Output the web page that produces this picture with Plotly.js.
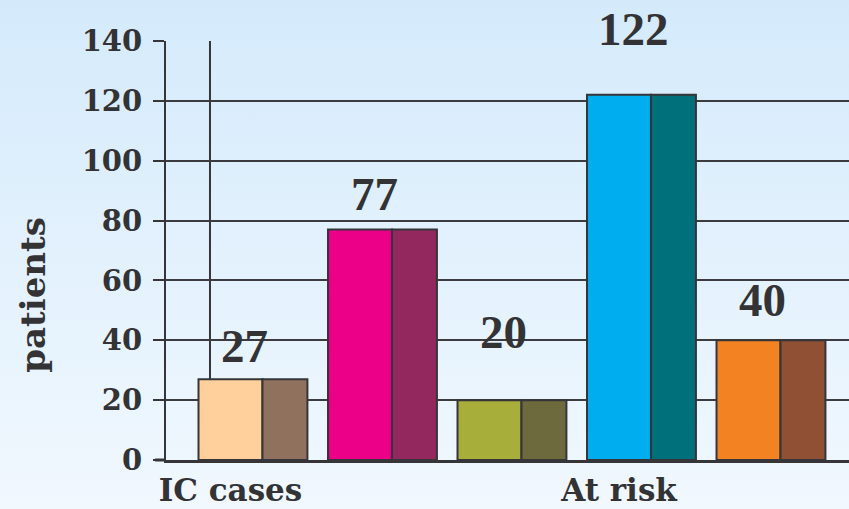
<!DOCTYPE html>
<html>
<head>
<meta charset="utf-8">
<script src="https://cdn.plot.ly/plotly-3.0.1.min.js"></script>
<style>
  html, body { margin: 0; padding: 0; }
  #chart {
    width: 849px; height: 509px;
    background: linear-gradient(to bottom, #d4eafb 0%, #e4f2fd 55%, #f1f8fe 100%);
  }
</style>
</head>
<body>
<div id="chart"></div>
<script>
// Patient counts per group
const groups = ['IC cases', 'IC cases', 'IC cases', 'At risk', 'At risk'];
const patients = [27, 77, 20, 122, 40];
const valueLabels = ['27', '77', '20', '122', '40'];

// Axis labels
const groupTickPos = [0, 3];
const groupTickText = ['IC cases', 'At risk'];
const yTicks = [0, 20, 40, 60, 80, 100, 120, 140];

// Face colours (front, side) for each block
const frontColors = ['#FFD09B', '#EC0088', '#A8AE3A', '#00AEEF', '#F38322'];
const sideColors  = ['#8F715D', '#93285F', '#6D6A3E', '#00717B', '#8F5034'];

const idx = patients.map((_, i) => i);
const edge = { color: '#35353a', width: 2 };

const front = {
  type: 'bar', x: idx, y: patients,
  offset: -0.247, width: 0.494,
  marker: { color: frontColors, line: edge },
  hoverinfo: 'skip', showlegend: false
};
const side = {
  type: 'bar', x: idx, y: patients,
  offset: 0.247, width: 0.347,
  marker: { color: sideColors, line: edge },
  hoverinfo: 'skip', showlegend: false
};

// Lift of each value label above its block, in px
const labelLift = [33, 36, 68, 66, 40];
const valueNotes = idx.map(i => ({
  x: i, y: patients[i], xref: 'x', yref: 'y',
  text: valueLabels[i], showarrow: false,
  xshift: 14, yshift: labelLift[i],
  xanchor: 'center', yanchor: 'middle',
  font: { family: 'Liberation Serif, Times New Roman, serif', size: 47, color: '#333336', weight: 'bold' }
}));

const serifBold = { family: 'DejaVu Serif, serif', color: '#333336', weight: 'bold' };

const layout = {
  width: 849, height: 509,
  margin: { l: 166, r: 0, t: 41, b: 49 },
  paper_bgcolor: 'rgba(0,0,0,0)',
  plot_bgcolor: 'rgba(0,0,0,0)',
  barmode: 'overlay',
  xaxis: {
    range: [-0.498, 4.776],
    tickmode: 'array', tickvals: groupTickPos, ticktext: groupTickText,
    ticks: '', showgrid: false, zeroline: false,
    showline: true, linecolor: '#35353a', linewidth: 3,
    tickfont: Object.assign({ size: 31 }, serifBold),
    ticklabelstandoff: 1,
    fixedrange: true
  },
  yaxis: {
    range: [0, 140],
    tickmode: 'array', tickvals: yTicks,
    ticks: 'outside', ticklen: 11, tickwidth: 2, tickcolor: '#35353a',
    showgrid: true, gridcolor: '#3c3c40', gridwidth: 2,
    zeroline: false,
    showline: true, linecolor: '#35353a', linewidth: 2,
    tickfont: Object.assign({ size: 29 }, serifBold),
    ticklabelstandoff: 5,
    fixedrange: true
  },
  shapes: [
    // back wall edge
    { type: 'line', xref: 'paper', yref: 'paper', x0: 0.0644, x1: 0.0644, y0: 0, y1: 1,
      line: { color: '#35353a', width: 2 }, layer: 'below' },
    // floor edge running out under the tick marks
    { type: 'line', xref: 'paper', yref: 'paper', x0: -0.016, x1: 0, y0: 0, y1: 0,
      line: { color: '#35353a', width: 3 } }
  ],
  annotations: valueNotes.concat([
    { xref: 'paper', yref: 'paper', x: -0.195, y: 0.394,
      text: 'patients', showarrow: false, textangle: -90,
      xanchor: 'center', yanchor: 'middle',
      font: Object.assign({ size: 34 }, serifBold) }
  ])
};

Plotly.newPlot('chart', [front, side], layout, { displayModeBar: false, staticPlot: true });
</script>
</body>
</html>
